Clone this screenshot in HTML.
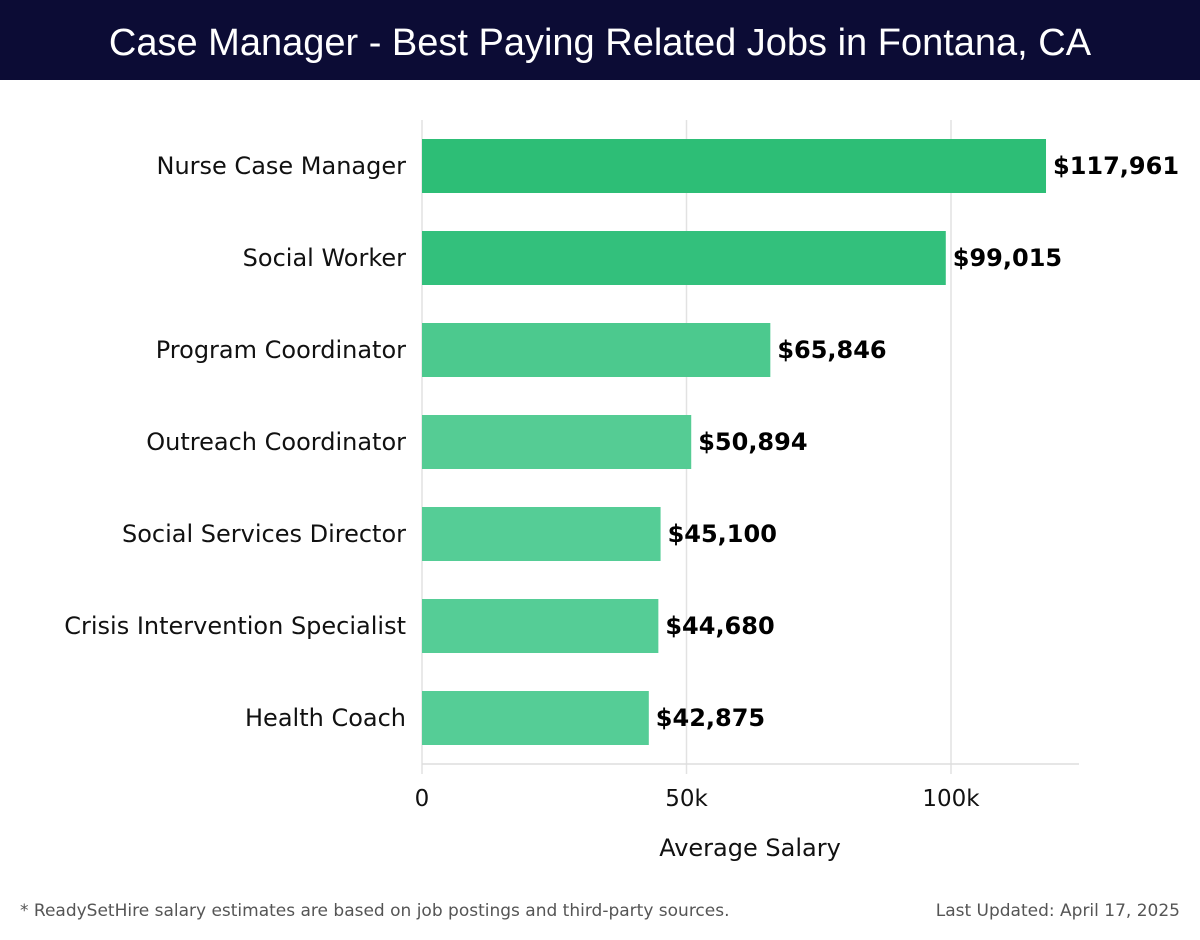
<!DOCTYPE html>
<html><head><meta charset="utf-8"><style>
body{margin:0;width:1200px;height:940px;background:#fff;overflow:hidden;font-family:"DejaVu Sans","Liberation Sans",sans-serif}
.hdr{position:absolute;left:0;top:0;width:1200px;height:80px;background:#0c0c35;color:#fff;font-size:38px;text-align:center;line-height:86px;font-family:"Liberation Sans",sans-serif}
.foot{position:absolute;top:901px;font-size:17px;color:#555;font-family:"DejaVu Sans",sans-serif}
</style></head><body>
<div class="hdr">Case Manager - Best Paying Related Jobs in Fontana, CA</div>
<svg id="chart" width="1200" height="940" style="position:absolute;left:0;top:0"></svg>
<div class="foot" style="left:20px">* ReadySetHire salary estimates are based on job postings and third-party sources.</div>
<div class="foot" style="right:20px">Last Updated: April 17, 2025</div>
<script>
const categories=["Nurse Case Manager","Social Worker","Program Coordinator","Outreach Coordinator","Social Services Director","Crisis Intervention Specialist","Health Coach"];
const salaries=[117961,99015,65846,50894,45100,44680,42875];
const valueLabels=["$117,961","$99,015","$65,846","$50,894","$45,100","$44,680","$42,875"];
const tickValues=[0,50000,100000];
const tickLabels=["0","50k","100k"];
const colors=["#2dbe76","#33c07c","#4cc98e","#55cc94","#55cd96","#55cd96","#55cd96"];
const svg=document.getElementById('chart');const NS="http://www.w3.org/2000/svg";
const x=v=>422+v*(529/100000);
const y=i=>139+i*92;
function mk(t,a,txt){const e=document.createElementNS(NS,t);for(const k in a)e.setAttribute(k,a[k]);if(txt!=null)e.textContent=txt;svg.appendChild(e);return e;}
tickValues.forEach((v,i)=>{
 const g=mk('line',{x1:x(v),x2:x(v),y1:120,y2:774,stroke:'#e2e2e2','stroke-width':1.5});
 
 
 const t=mk('text',{x:x(v),y:806,'text-anchor':'middle','font-size':23,fill:'#111'},tickLabels[i]);
 
 
});
const ax=mk('line',{x1:422,x2:1079,y1:764,y2:764,stroke:'#ddd','stroke-width':1.5});


categories.forEach((c,i)=>{
 const b=mk('rect',{x:x(0),y:y(i),width:x(salaries[i])-x(0),height:54,fill:colors[i]});
 
 
 const l=mk('text',{x:406,y:y(i)+35,'text-anchor':'end','font-size':24,fill:'#111'},c);
 
 
 const v=mk('text',{x:x(salaries[i])+7,y:y(i)+35,'font-size':24,'font-weight':'bold',fill:'#000'},valueLabels[i]);
 
 
});
const xt=mk('text',{x:750,y:856,'text-anchor':'middle','font-size':24,fill:'#111'},'Average Salary');


</script>
</body></html>
